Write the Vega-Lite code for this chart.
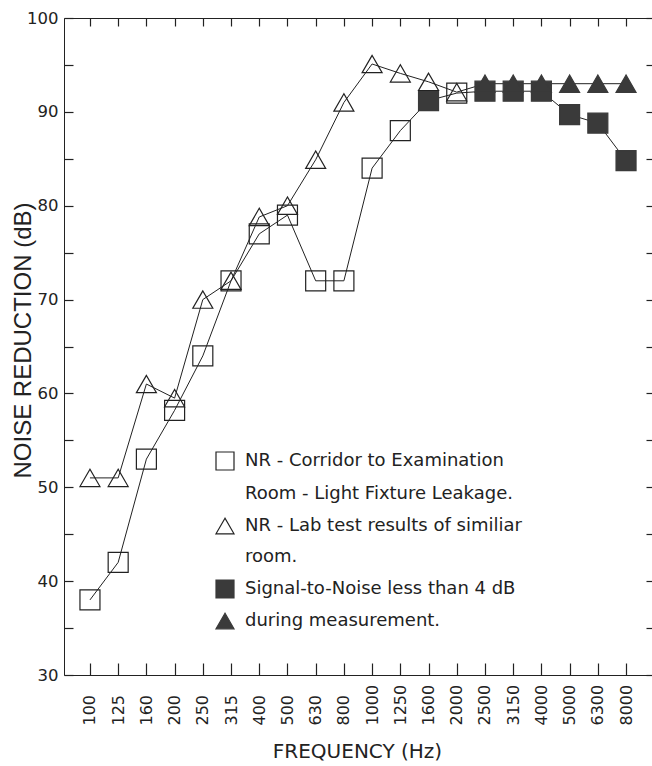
{
  "$schema": "https://vega.github.io/schema/vega-lite/v6.json",
  "autosize": {"type": "none"},
  "padding": {"left": 64, "top": 18, "right": 0, "bottom": 91},
  "width": 588,
  "height": 657,
  "background": "white",
  "config": {
    "view": {"stroke": null},
    "axis": {"grid": false, "ticks": true, "domainColor": "#222", "tickColor": "#222", "labelColor": "#222", "titleColor": "#222", "domainWidth": 1, "tickWidth": 1.2}
  },
  "data": {
    "values": [
      {"freq": 100, "nr": 38, "series": "corridor", "marker": "NR - Corridor to Examination"},
      {"freq": 125, "nr": 42, "series": "corridor", "marker": "NR - Corridor to Examination"},
      {"freq": 160, "nr": 53, "series": "corridor", "marker": "NR - Corridor to Examination"},
      {"freq": 200, "nr": 58.2, "series": "corridor", "marker": "NR - Corridor to Examination"},
      {"freq": 250, "nr": 64, "series": "corridor", "marker": "NR - Corridor to Examination"},
      {"freq": 315, "nr": 72, "series": "corridor", "marker": "NR - Corridor to Examination"},
      {"freq": 400, "nr": 77, "series": "corridor", "marker": "NR - Corridor to Examination"},
      {"freq": 500, "nr": 79, "series": "corridor", "marker": "NR - Corridor to Examination"},
      {"freq": 630, "nr": 72, "series": "corridor", "marker": "NR - Corridor to Examination"},
      {"freq": 800, "nr": 72, "series": "corridor", "marker": "NR - Corridor to Examination"},
      {"freq": 1000, "nr": 84, "series": "corridor", "marker": "NR - Corridor to Examination"},
      {"freq": 1250, "nr": 88, "series": "corridor", "marker": "NR - Corridor to Examination"},
      {"freq": 1600, "nr": 91.2, "series": "corridor", "marker": "Signal-to-Noise less than 4 dB"},
      {"freq": 2000, "nr": 92, "series": "corridor", "marker": "NR - Corridor to Examination"},
      {"freq": 2500, "nr": 92.2, "series": "corridor", "marker": "Signal-to-Noise less than 4 dB"},
      {"freq": 3150, "nr": 92.2, "series": "corridor", "marker": "Signal-to-Noise less than 4 dB"},
      {"freq": 4000, "nr": 92.2, "series": "corridor", "marker": "Signal-to-Noise less than 4 dB"},
      {"freq": 5000, "nr": 89.7, "series": "corridor", "marker": "Signal-to-Noise less than 4 dB"},
      {"freq": 6300, "nr": 88.8, "series": "corridor", "marker": "Signal-to-Noise less than 4 dB"},
      {"freq": 8000, "nr": 84.8, "series": "corridor", "marker": "Signal-to-Noise less than 4 dB"},
      {"freq": 100, "nr": 51, "series": "lab", "marker": "NR - Lab test results of similiar"},
      {"freq": 125, "nr": 51, "series": "lab", "marker": "NR - Lab test results of similiar"},
      {"freq": 160, "nr": 61, "series": "lab", "marker": "NR - Lab test results of similiar"},
      {"freq": 200, "nr": 59.5, "series": "lab", "marker": "NR - Lab test results of similiar"},
      {"freq": 250, "nr": 70, "series": "lab", "marker": "NR - Lab test results of similiar"},
      {"freq": 315, "nr": 72, "series": "lab", "marker": "NR - Lab test results of similiar"},
      {"freq": 400, "nr": 78.8, "series": "lab", "marker": "NR - Lab test results of similiar"},
      {"freq": 500, "nr": 80, "series": "lab", "marker": "NR - Lab test results of similiar"},
      {"freq": 630, "nr": 84.9, "series": "lab", "marker": "NR - Lab test results of similiar"},
      {"freq": 800, "nr": 91, "series": "lab", "marker": "NR - Lab test results of similiar"},
      {"freq": 1000, "nr": 95.1, "series": "lab", "marker": "NR - Lab test results of similiar"},
      {"freq": 1250, "nr": 94.1, "series": "lab", "marker": "NR - Lab test results of similiar"},
      {"freq": 1600, "nr": 93.2, "series": "lab", "marker": "NR - Lab test results of similiar"},
      {"freq": 2000, "nr": 92.1, "series": "lab", "marker": "NR - Lab test results of similiar"},
      {"freq": 2500, "nr": 93, "series": "lab", "marker": "during measurement."},
      {"freq": 3150, "nr": 93, "series": "lab", "marker": "during measurement."},
      {"freq": 4000, "nr": 93, "series": "lab", "marker": "during measurement."},
      {"freq": 5000, "nr": 93, "series": "lab", "marker": "during measurement."},
      {"freq": 6300, "nr": 93, "series": "lab", "marker": "during measurement."},
      {"freq": 8000, "nr": 93, "series": "lab", "marker": "during measurement."}
    ]
  },
  "resolve": {"axis": {"x": "independent", "y": "independent"}},
  "layer": [
    {
      "mark": {"type": "line", "color": "#222", "strokeWidth": 1},
      "encoding": {
        "x": {
          "field": "freq", "type": "ordinal",
          "scale": {"type": "point", "padding": 0.92},
          "axis": {
            "orient": "bottom", "title": "FREQUENCY (Hz)", "ticks": true,
            "labelAngle": -90, "labelAlign": "left", "labelBaseline": "middle",
            "labelFont": "DejaVu Sans", "labelFontSize": 16,
            "tickSize": -12, "labelPadding": 62,
            "titleFont": "DejaVu Sans", "titleFontSize": 20, "titleFontWeight": "normal",
            "titleX": 293, "titleY": 82, "titleAlign": "center", "titleBaseline": "alphabetic"
          }
        },
        "y": {
          "field": "nr", "type": "quantitative",
          "scale": {"domain": [30, 100], "nice": false, "zero": false},
          "axis": {
            "orient": "left", "title": "NOISE REDUCTION (dB)", "ticks": true,
            "values": [30, 35, 40, 45, 50, 55, 60, 65, 70, 75, 80, 85, 90, 95, 100],
            "labelExpr": "datum.value % 10 == 0 ? datum.label : ''",
            "labelFont": "DejaVu Sans", "labelFontSize": 16.5,
            "tickSize": -9, "labelPadding": 15,
            "titleFont": "Liberation Sans", "titleFontSize": 24, "titleFontWeight": "normal",
            "titleAngle": -90, "titleX": -34, "titleY": 322, "titleAlign": "center", "titleBaseline": "alphabetic"
          }
        },
        "detail": {"field": "series"},
        "order": {"value": null}
      }
    },
    {
      "mark": {"type": "point", "strokeWidth": 1.2, "size": 400, "opacity": 1},
      "encoding": {
        "x": {
          "field": "freq", "type": "ordinal",
          "axis": {"orient": "top", "labels": false, "title": null, "ticks": true, "tickSize": -8, "domain": true}
        },
        "y": {
          "field": "nr", "type": "quantitative",
          "axis": {
            "orient": "right", "labels": false, "title": null, "domain": false, "ticks": true, "tickSize": -6,
            "values": [30, 35, 40, 45, 50, 55, 60, 65, 70, 75, 80, 85, 90, 95, 100]
          }
        },
        "shape": {
          "field": "marker", "type": "nominal", "title": null,
          "scale": {
            "domain": ["NR - Corridor to Examination", "Room -  Light Fixture Leakage.", "NR - Lab test results of similiar", "room.", "Signal-to-Noise less than 4 dB", "during measurement."],
            "range": ["square", "square", "triangle-up", "triangle-up", "square", "triangle-up"]
          },
          "legend": {
            "orient": "none", "legendX": 151, "legendY": 433,
            "symbolSize": 324, "symbolStrokeWidth": 1.2,
            "labelFont": "DejaVu Sans", "labelFontSize": 18, "labelColor": "#222",
            "labelOffset": 10, "labelLimit": 500, "rowPadding": 9, "padding": 0
          }
        },
        "fill": {
          "field": "marker", "type": "nominal", "title": null,
          "scale": {
            "domain": ["NR - Corridor to Examination", "Room -  Light Fixture Leakage.", "NR - Lab test results of similiar", "room.", "Signal-to-Noise less than 4 dB", "during measurement."],
            "range": ["transparent", "transparent", "transparent", "transparent", "#3a3a3a", "#3a3a3a"]
          }
        },
        "stroke": {
          "field": "marker", "type": "nominal", "title": null,
          "scale": {
            "domain": ["NR - Corridor to Examination", "Room -  Light Fixture Leakage.", "NR - Lab test results of similiar", "room.", "Signal-to-Noise less than 4 dB", "during measurement."],
            "range": ["#222", "transparent", "#222", "transparent", "#3a3a3a", "#3a3a3a"]
          }
        }
      }
    }
  ]
}
